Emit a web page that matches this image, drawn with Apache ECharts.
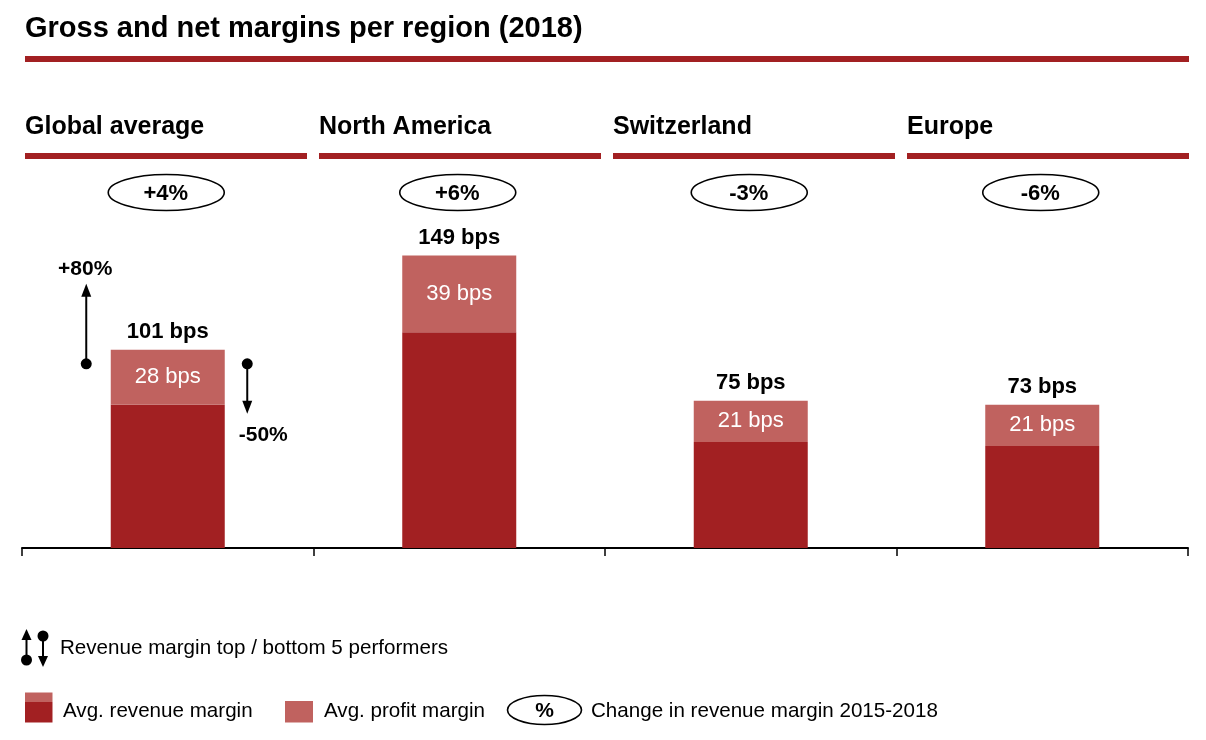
<!DOCTYPE html>
<html><head><meta charset="utf-8">
<script src="https://cdn.jsdelivr.net/npm/echarts@6/dist/echarts.min.js"></script>
<style>html,body{margin:0;padding:0;background:#fff}#c{width:1206px;height:740px}</style>
</head><body><div id="c"></div>
<script>
// ---- data ----
const categories = ['Global average', 'North America', 'Switzerland', 'Europe'];
const revenueMargin = [73, 110, 54, 52];   // dark part (bps)
const profitMargin = [28, 39, 21, 21];     // light part (bps)
const totalMargin = [101, 149, 75, 73];    // label on top (bps)
const changeLabels = ['+4%', '+6%', '-3%', '-6%'];
const topPerformerLabel = '+80%';
const bottomPerformerLabel = '-50%';
const titleText = 'Gross and net margins per region (2018)';

// ---- style ----
const DARK = '#A22022', LIGHT = '#C0625F';
const FONT = '"Liberation Sans", Arial, Helvetica, sans-serif';
const GL = 22, GR = 18, GT = 234, GB = 192;
const HEAD_X = 25, HEAD_STEP = 294, HEAD_W = 282;
const LEG_FONT = '20.6px ' + FONT;

const chart = echarts.init(document.getElementById('c'));

const graphics = [];
// title
graphics.push({type:'text', x:25, y:28.5, style:{text:titleText, font:'bold 29px ' + FONT, fill:'#000', verticalAlign:'middle'}});
graphics.push({type:'rect', shape:{x:25, y:56, width:1164, height:6}, style:{fill:DARK}});
// headers
categories.forEach((c, i) => {
  const x0 = HEAD_X + i * HEAD_STEP;
  graphics.push({type:'text', x:x0, y:127.5, style:{text:c, font:'bold 25px ' + FONT, fill:'#000', verticalAlign:'middle'}});
  graphics.push({type:'rect', shape:{x:x0, y:153, width:HEAD_W, height:6}, style:{fill:DARK}});
});
// legend row 1
graphics.push({type:'line', shape:{x1:26.5, y1:638, x2:26.5, y2:660}, style:{stroke:'#000', lineWidth:2}});
graphics.push({type:'polygon', shape:{points:[[26.5,629],[21.5,640],[31.5,640]]}, style:{fill:'#000'}});
graphics.push({type:'circle', shape:{cx:26.5, cy:660, r:5.5}, style:{fill:'#000'}});
graphics.push({type:'line', shape:{x1:43, y1:636, x2:43, y2:658}, style:{stroke:'#000', lineWidth:2}});
graphics.push({type:'circle', shape:{cx:43, cy:636, r:5.5}, style:{fill:'#000'}});
graphics.push({type:'polygon', shape:{points:[[43,667],[38,656],[48,656]]}, style:{fill:'#000'}});
graphics.push({type:'text', x:60, y:648.5, style:{text:'Revenue margin top / bottom 5 performers', font:LEG_FONT, fill:'#000', verticalAlign:'middle'}});
// legend row 2
graphics.push({type:'rect', shape:{x:25, y:692.5, width:27.5, height:9.5}, style:{fill:LIGHT}});
graphics.push({type:'rect', shape:{x:25, y:702, width:27.5, height:20.5}, style:{fill:DARK}});
graphics.push({type:'text', x:63, y:711.5, style:{text:'Avg. revenue margin', font:LEG_FONT, fill:'#000', verticalAlign:'middle'}});
graphics.push({type:'rect', shape:{x:285, y:701, width:28, height:21.5}, style:{fill:LIGHT}});
graphics.push({type:'text', x:324, y:711.5, style:{text:'Avg. profit margin', font:LEG_FONT, fill:'#000', verticalAlign:'middle'}});
graphics.push({type:'ellipse', shape:{cx:544.5, cy:710, rx:37, ry:14.5}, style:{fill:'#fff', stroke:'#000', lineWidth:1.6}});
graphics.push({type:'text', x:544.5, y:711.5, style:{text:'%', font:'bold 21px ' + FONT, fill:'#000', align:'center', verticalAlign:'middle'}});
graphics.push({type:'text', x:591, y:711.5, style:{text:'Change in revenue margin 2015-2018', font:LEG_FONT, fill:'#000', verticalAlign:'middle'}});

function arrowGroup(cx, topY) {
  const ux = cx - 81.5, dx = cx + 79.5;
  return {type:'group', children:[
    {type:'line', shape:{x1:ux, y1:topY + 14, x2:ux, y2:topY - 55}, style:{stroke:'#000', lineWidth:2}},
    {type:'circle', shape:{cx:ux, cy:topY + 14, r:5.5}, style:{fill:'#000'}},
    {type:'polygon', shape:{points:[[ux, topY - 66],[ux - 5, topY - 53],[ux + 5, topY - 53]]}, style:{fill:'#000'}},
    {type:'text', x:ux - 1, y:topY - 80.5, style:{text:topPerformerLabel, font:'bold 21px ' + FONT, fill:'#000', align:'center', verticalAlign:'middle'}},
    {type:'line', shape:{x1:dx, y1:topY + 14, x2:dx, y2:topY + 54}, style:{stroke:'#000', lineWidth:2}},
    {type:'circle', shape:{cx:dx, cy:topY + 14, r:5.5}, style:{fill:'#000'}},
    {type:'polygon', shape:{points:[[dx, topY + 64],[dx - 5, topY + 51],[dx + 5, topY + 51]]}, style:{fill:'#000'}},
    {type:'text', x:dx + 16, y:topY + 85.5, style:{text:bottomPerformerLabel, font:'bold 21px ' + FONT, fill:'#000', align:'center', verticalAlign:'middle'}}
  ]};
}

chart.setOption({
  animation:false,
  backgroundColor:'#fff',
  textStyle:{fontFamily:FONT},
  grid:{left:GL, right:GR, top:GT, bottom:GB, containLabel:false},
  xAxis:{type:'category', data:categories, boundaryGap:true,
    axisLine:{lineStyle:{color:'#000', width:2}},
    axisTick:{show:true, length:8, lineStyle:{color:'#000', width:1.5}},
    axisLabel:{show:false}, splitLine:{show:false}},
  yAxis:{type:'value', min:0, max:160, show:false, splitLine:{show:false}},
  graphic:graphics,
  series:[
    {type:'bar', name:'Avg. revenue margin', stack:'m', data:revenueMargin, barWidth:114, itemStyle:{color:DARK}},
    {type:'bar', name:'Avg. profit margin', stack:'m', data:profitMargin, barWidth:114, itemStyle:{color:LIGHT},
      label:{show:true, position:'inside', formatter:'{c} bps', color:'#fff', fontSize:22, fontFamily:FONT}},
    {type:'custom', name:'total', data:totalMargin.map((v, i) => [i, v]), clip:false,
      renderItem:(params, api) => {
        const p = api.coord([api.value(0), api.value(1)]);
        return {type:'text', x:p[0], y:p[1] - 17.5, style:{text:api.value(1) + ' bps', font:'bold 22px ' + FONT, fill:'#000', align:'center', verticalAlign:'middle'}};
      }},
    {type:'custom', name:'change', data:changeLabels.map((v, i) => [i, 0]), clip:false,
      renderItem:(params, api) => {
        const x = api.coord([api.value(0), 0])[0];
        return {type:'group', children:[
          {type:'ellipse', shape:{cx:x - 1.5, cy:192.5, rx:58, ry:18}, style:{fill:'#fff', stroke:'#000', lineWidth:1.6}},
          {type:'text', x:x - 2, y:194, style:{text:changeLabels[params.dataIndex], font:'bold 22px ' + FONT, fill:'#000', align:'center', verticalAlign:'middle'}}
        ]};
      }},
    {type:'custom', name:'performers', data:[[0, totalMargin[0]]], clip:false,
      renderItem:(params, api) => {
        const p = api.coord([api.value(0), api.value(1)]);
        return arrowGroup(p[0], p[1]);
      }}
  ]
});
</script></body></html>
